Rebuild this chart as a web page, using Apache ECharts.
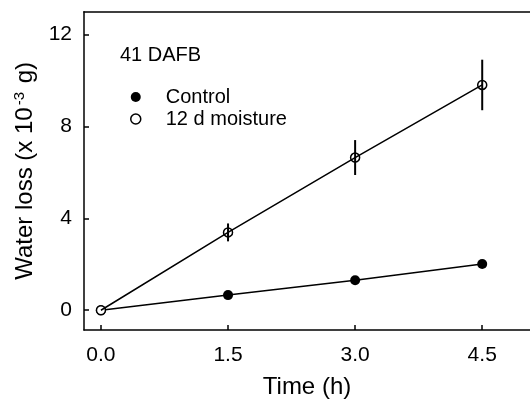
<!DOCTYPE html>
<html>
<head>
<meta charset="utf-8">
<script src="https://cdn.jsdelivr.net/npm/echarts@6/dist/echarts.min.js"></script>
<style>html,body{margin:0;padding:0;background:#fff;}#c{width:530px;height:404px;}</style>
</head>
<body>
<div id="c"></div>
<script>
var time = [0, 1.5, 3.0, 4.5];
var control = [0, 0.66, 1.31, 2.01];
var moisture = [0, 3.39, 6.65, 9.81];
var moistureErr = [0, 0.39, 0.76, 1.1];
var xTicks = [0, 1.5, 3.0, 4.5];
var yTicks = [0, 4, 8, 12];
var seriesNames = ['Control', '12 d moisture'];
var panelLabel = '41 DAFB';

var FONT = "'Liberation Sans', Arial, sans-serif";
var chart = echarts.init(document.getElementById('c'), null, {renderer: 'canvas'});

var controlData = time.map(function (t, i) { return [t, control[i]]; });
var moistData = time.map(function (t, i) { return [t, moisture[i]]; });
var errData = time.map(function (t, i) { return [t, moisture[i] - moistureErr[i], moisture[i] + moistureErr[i]]; });

chart.setOption({
  animation: false,
  backgroundColor: '#fff',
  textStyle: {fontFamily: FONT},
  grid: {left: 84, top: 11.7, width: 452, height: 321, show: false},
  xAxis: [{
    type: 'value', min: -0.2, max: 5.064,
    name: 'Time (h)', nameLocation: 'middle', nameGap: 45,
    nameTextStyle: {fontSize: 24, color: '#000', fontFamily: FONT},
    axisLine: {show: true, onZero: false, lineStyle: {color: '#000', width: 1.5}},
    axisTick: {show: true, inside: true, length: 5, lineStyle: {color: '#000', width: 1.5}, customValues: xTicks},
    axisLabel: {fontSize: 21, color: '#000', margin: 15, fontFamily: FONT, customValues: xTicks,
      formatter: function (v) { return v.toFixed(1); }},
    splitLine: {show: false}
  }, {
    type: 'value', position: 'top', min: -0.2, max: 5.064,
    axisLine: {show: true, onZero: false, lineStyle: {color: '#000', width: 1.5}},
    axisTick: {show: false}, axisLabel: {show: false}, splitLine: {show: false}
  }],
  yAxis: {
    type: 'value', min: -0.86, max: 13,
    name: '{n|Water loss (x 10}{s|-3}{n| g)}', nameLocation: 'middle', nameGap: 46,
    nameTextStyle: {
      rich: {
        n: {fontSize: 24, color: '#000', fontFamily: FONT},
        s: {fontSize: 15, color: '#000', fontFamily: FONT, verticalAlign: 'top', padding: [0, 2, 11, 2]}
      }
    },
    axisLine: {show: true, onZero: false, lineStyle: {color: '#000', width: 1.5}},
    axisTick: {show: true, inside: true, length: 5, lineStyle: {color: '#000', width: 1.5}, customValues: yTicks},
    axisLabel: {fontSize: 21, color: '#000', margin: 12, fontFamily: FONT, customValues: yTicks},
    splitLine: {show: false}
  },
  legend: {
    orient: 'vertical', left: 125, top: 82, itemGap: 2, itemWidth: 10, itemHeight: 10,
    textStyle: {fontSize: 20, color: '#000', fontFamily: FONT, padding: [0, 0, 0, 20]},
    data: [
      {name: seriesNames[0], icon: 'circle', itemStyle: {color: '#000', borderWidth: 0}},
      {name: seriesNames[1], icon: 'circle', itemStyle: {color: '#fff', borderColor: '#000', borderWidth: 1.5}}
    ]
  },
  graphic: [{
    type: 'text', left: 120, top: 45,
    style: {text: panelLabel, fontSize: 20, fill: '#000', fontFamily: FONT}
  }],
  series: [
    {
      name: seriesNames[0], type: 'line', data: controlData,
      symbol: 'circle', symbolSize: 10,
      lineStyle: {color: '#000', width: 1.5},
      itemStyle: {color: '#000'}, z: 3
    },
    {
      name: seriesNames[1], type: 'scatter', data: moistData,
      symbol: 'circle', symbolSize: 9,
      itemStyle: {color: '#fff', borderColor: '#000', borderWidth: 1.5, opacity: 1}, z: 4
    },
    {
      name: seriesNames[1] + ' line', type: 'line', data: moistData,
      showSymbol: false, symbol: 'none',
      lineStyle: {color: '#000', width: 1.5}, z: 5
    },
    {
      name: 'err', type: 'custom', data: errData, z: 6,
      renderItem: function (params, api) {
        var x = api.value(0);
        var lo = api.coord([x, api.value(1)]);
        var hi = api.coord([x, api.value(2)]);
        return {type: 'line', shape: {x1: lo[0], y1: lo[1], x2: hi[0], y2: hi[1]},
          style: {stroke: '#000', lineWidth: 2}};
      }
    }
  ]
});
</script>
</body>
</html>
